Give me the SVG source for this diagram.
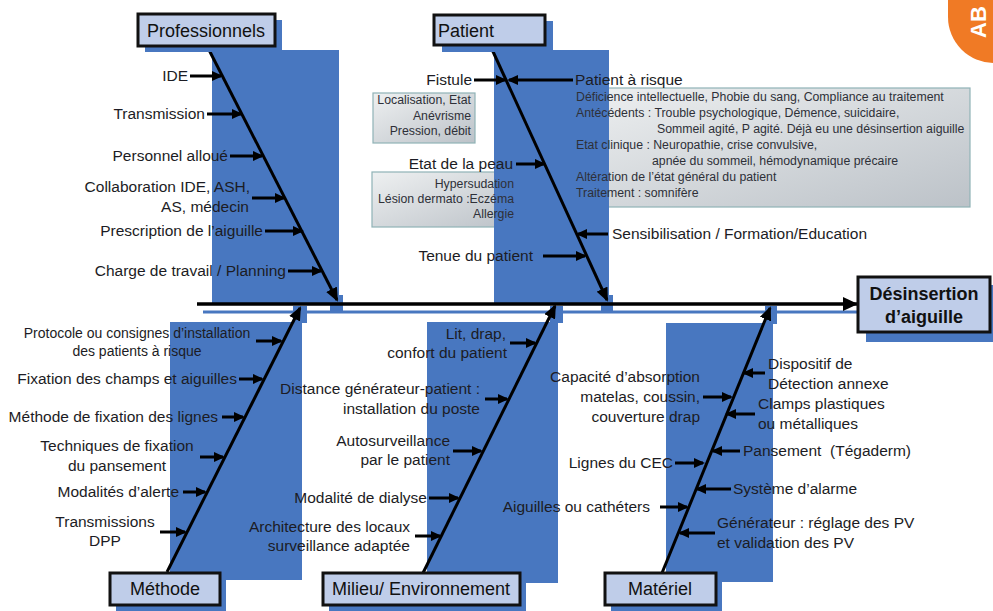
<svg xmlns="http://www.w3.org/2000/svg" width="993" height="611" viewBox="0 0 993 611">
<style>
  text { font-family: "Liberation Sans", Arial, sans-serif; fill: #1c1c24; }
  .lbl { font-size: 15.5px; }
  .sm { font-size: 14px; }
  .note { font-size: 12.3px; fill: #2e3038; }
  .note12 { font-size: 12.3px; fill: #2e3038; }
  .title { font-size: 18px; fill: #111; }
  .eff { font-size: 18px; font-weight: bold; fill: #111; }
  .blue { fill: #4877c0; }
  .box { fill: #bfcde9; stroke: #111; stroke-width: 3; }
  .gbox { fill: url(#gg); stroke: #8fb2b6; stroke-width: 1.2; }
  .bone { stroke: #000; stroke-width: 3; fill: none; marker-end: url(#mb); }
  .sub { stroke: #000; stroke-width: 3; fill: none; marker-end: url(#ms); }
  .r { text-anchor: end; }
  .c { text-anchor: middle; }
</style>
<defs>
  <linearGradient id="gg" x1="0" y1="0" x2="1" y2="1">
    <stop offset="0" stop-color="#eef0f1"/>
    <stop offset="1" stop-color="#bcc2c8"/>
  </linearGradient>
  <marker id="ms" markerUnits="userSpaceOnUse" markerWidth="12" markerHeight="10" refX="9" refY="5" orient="auto">
    <path d="M0,0 L11,5 L0,10 z" fill="#000"/>
  </marker>
  <marker id="mb" markerUnits="userSpaceOnUse" markerWidth="15" markerHeight="12" refX="12" refY="6" orient="auto">
    <path d="M0,0 L14,6 L0,12 z" fill="#000"/>
  </marker>
  <marker id="mspine" markerUnits="userSpaceOnUse" markerWidth="16" markerHeight="14" refX="14" refY="7" orient="auto">
    <path d="M0,0 L15,7 L0,14 z" fill="#000"/>
  </marker>
</defs>
<rect width="993" height="611" fill="#fff"/>

<!-- logo fragment -->
<g id="logo">
  <rect x="948" y="-60" width="120" height="123" rx="46" fill="#f07a25"/>
  <text transform="translate(986,38) rotate(-90)" style="font-size:22px;font-weight:bold;fill:#fff">AB</text>
</g>

<!-- grey note boxes (behind blue) -->
<g id="notes-bg">
  <rect class="gbox" x="373" y="93" width="102" height="50"/>
  <rect class="gbox" x="372" y="172" width="143" height="55"/>
  <rect class="gbox" x="573" y="88" width="397" height="119"/>
</g>

<!-- blue backgrounds -->
<g id="backgrounds">
  <rect class="blue" x="212" y="50" width="127" height="253"/>
  <rect class="blue" x="494" y="50" width="115" height="253"/>
  <rect class="blue" x="170" y="322" width="132" height="258"/>
  <rect class="blue" x="427" y="322" width="131" height="261"/>
  <rect class="blue" x="666" y="323" width="107" height="259"/>
  <rect class="blue" x="330" y="295" width="13" height="17"/>
  <rect class="blue" x="601" y="295" width="12" height="17"/>
  <rect class="blue" x="293" y="306" width="14" height="17"/>
  <rect class="blue" x="550" y="306" width="13" height="17"/>
  <rect class="blue" x="765" y="306" width="12" height="18"/>
  <line x1="203" y1="312" x2="862" y2="312" stroke="#4877c0" stroke-width="3"/>
</g>

<!-- connectors -->
<g id="connectors">
  <line x1="197" y1="304" x2="857" y2="304" stroke="#000" stroke-width="3.5" marker-end="url(#mspine)"/>
  <!-- bones -->
  <line class="bone" x1="207" y1="46" x2="337" y2="300"/>
  <line class="bone" x1="490" y1="45" x2="607" y2="300"/>
  <line class="bone" x1="167" y1="572" x2="300" y2="308"/>
  <line class="bone" x1="423" y1="573" x2="555" y2="306"/>
  <line class="bone" x1="662" y1="573" x2="770" y2="308"/>
  <!-- Professionnels -->
  <line class="sub" x1="190" y1="76" x2="221" y2="76"/>
  <line class="sub" x1="207" y1="114" x2="241" y2="114"/>
  <line class="sub" x1="230" y1="156" x2="262" y2="156"/>
  <line class="sub" x1="252" y1="198" x2="284" y2="198"/>
  <line class="sub" x1="265" y1="231" x2="302" y2="231"/>
  <line class="sub" x1="288" y1="271" x2="321" y2="271"/>
  <!-- Patient -->
  <line class="sub" x1="474" y1="80" x2="505" y2="80"/>
  <line class="sub" x1="573" y1="80" x2="509" y2="80"/>
  <line class="sub" x1="516" y1="164" x2="544" y2="164"/>
  <line class="sub" x1="608" y1="234" x2="578" y2="234"/>
  <line class="sub" x1="543" y1="256" x2="585" y2="256"/>
  <!-- Méthode -->
  <line class="sub" x1="256" y1="341" x2="281" y2="341"/>
  <line class="sub" x1="239" y1="379" x2="262" y2="379"/>
  <line class="sub" x1="222" y1="417" x2="243" y2="417"/>
  <line class="sub" x1="200" y1="457" x2="223" y2="457"/>
  <line class="sub" x1="183" y1="492" x2="205" y2="492"/>
  <line class="sub" x1="160" y1="532" x2="185" y2="532"/>
  <!-- Milieu -->
  <line class="sub" x1="510" y1="343" x2="535" y2="343"/>
  <line class="sub" x1="485" y1="399" x2="507" y2="399"/>
  <line class="sub" x1="453" y1="451" x2="481" y2="451"/>
  <line class="sub" x1="429" y1="498" x2="458" y2="498"/>
  <line class="sub" x1="415" y1="536" x2="440" y2="536"/>
  <!-- Matériel -->
  <line class="sub" x1="765" y1="373" x2="744" y2="373"/>
  <line class="sub" x1="703" y1="397" x2="731" y2="397"/>
  <line class="sub" x1="755" y1="414" x2="727" y2="414"/>
  <line class="sub" x1="740" y1="451" x2="713" y2="451"/>
  <line class="sub" x1="675" y1="463" x2="703" y2="463"/>
  <line class="sub" x1="731" y1="489" x2="697" y2="489"/>
  <line class="sub" x1="660" y1="507" x2="687" y2="507"/>
  <line class="sub" x1="715" y1="533" x2="680" y2="533"/>
</g>

<!-- category: Professionnels -->
<g id="professionnels">
  <rect class="blue" x="145" y="20" width="137" height="32"/>
  <rect class="box" x="138" y="14" width="137" height="32"/>
  <text class="title c" x="206" y="37">Professionnels</text>
  <text class="lbl r" x="188" y="81">IDE</text>
  <text class="lbl r" x="205" y="119">Transmission</text>
  <text class="lbl r" x="228" y="161">Personnel alloué</text>
  <text class="lbl r" x="250" y="192">Collaboration IDE, ASH,</text>
  <text class="lbl r" x="249" y="212">AS, médecin</text>
  <text class="lbl r" x="263" y="236">Prescription de l’aiguille</text>
  <text class="lbl r" x="286" y="276">Charge de travail / Planning</text>
</g>

<!-- category: Patient -->
<g id="patient">
  <rect class="blue" x="442" y="21" width="111" height="31"/>
  <rect class="box" x="434" y="15" width="111" height="30"/>
  <text class="title" x="438" y="37">Patient</text>
  <text class="lbl r" x="472" y="85">Fistule</text>
  <text class="lbl" x="575" y="85">Patient à risque</text>
  <text class="note12 r" x="471" y="104">Localisation, Etat</text>
  <text class="note12 r" x="471" y="120">Anévrisme</text>
  <text class="note12 r" x="471" y="135">Pression, débit</text>
  <text class="lbl r" x="513" y="169">Etat de la peau</text>
  <text class="note12 r" x="514" y="188">Hypersudation</text>
  <text class="note12 r" x="514" y="203">Lésion dermato :Eczéma</text>
  <text class="note12 r" x="514" y="218">Allergie</text>
  <text class="note" x="576" y="101">Déficience intellectuelle, Phobie du sang, Compliance au traitement</text>
  <text class="note" x="576" y="117">Antécédents : Trouble psychologique, Démence, suicidaire,</text>
  <text class="note" x="657" y="133">Sommeil agité, P agité. Déjà eu une désinsertion aiguille</text>
  <text class="note" x="576" y="149">Etat clinique : Neuropathie, crise convulsive,</text>
  <text class="note" x="652" y="165">apnée du sommeil, hémodynamique précaire</text>
  <text class="note" x="576" y="181">Altération de l’état général du patient</text>
  <text class="note" x="576" y="197">Traitement : somnifère</text>
  <text class="lbl" x="612" y="239">Sensibilisation / Formation/Education</text>
  <text class="lbl r" x="533" y="261">Tenue du patient</text>
</g>

<!-- category: Méthode -->
<g id="methode">
  <rect class="blue" x="116" y="579" width="110" height="32"/>
  <rect class="box" x="110" y="573" width="110" height="32"/>
  <text class="title c" x="165" y="595">Méthode</text>
  <text class="sm c" x="137" y="338">Protocole ou consignes d’installation</text>
  <text class="sm c" x="137" y="356">des patients à risque</text>
  <text class="lbl r" x="237" y="384">Fixation des champs et aiguilles</text>
  <text class="lbl r" x="218" y="422">Méthode de fixation des lignes</text>
  <text class="lbl c" x="117" y="451">Techniques de fixation</text>
  <text class="lbl c" x="117" y="471">du pansement</text>
  <text class="lbl r" x="179" y="497">Modalités d’alerte</text>
  <text class="lbl c" x="105" y="527">Transmissions</text>
  <text class="lbl c" x="105" y="546">DPP</text>
</g>

<!-- category: Milieu/ Environnement -->
<g id="milieu">
  <rect class="blue" x="329" y="579" width="197" height="32"/>
  <rect class="box" x="323" y="573" width="197" height="32"/>
  <text class="title c" x="421" y="595">Milieu/ Environnement</text>
  <text class="lbl r" x="506" y="339">Lit, drap,</text>
  <text class="lbl r" x="507" y="358">confort du patient</text>
  <text class="lbl r" x="480" y="394">Distance générateur-patient :</text>
  <text class="lbl r" x="480" y="414">installation du poste</text>
  <text class="lbl r" x="450" y="446">Autosurveillance</text>
  <text class="lbl r" x="450" y="465">par le patient</text>
  <text class="lbl r" x="427" y="503">Modalité de dialyse</text>
  <text class="lbl r" x="410" y="532">Architecture des locaux</text>
  <text class="lbl r" x="410" y="551">surveillance adaptée</text>
</g>

<!-- category: Matériel -->
<g id="materiel">
  <rect class="blue" x="611" y="579" width="111" height="32"/>
  <rect class="box" x="605" y="573" width="111" height="32"/>
  <text class="title c" x="660" y="595">Matériel</text>
  <text class="lbl" x="768" y="369">Dispositif de</text>
  <text class="lbl" x="768" y="389">Détection annexe</text>
  <text class="lbl r" x="700" y="382">Capacité d’absorption</text>
  <text class="lbl r" x="700" y="402">matelas, coussin,</text>
  <text class="lbl r" x="700" y="422">couverture drap</text>
  <text class="lbl" x="758" y="409">Clamps plastiques</text>
  <text class="lbl" x="758" y="429">ou métalliques</text>
  <text class="lbl" x="743" y="456" xml:space="preserve">Pansement  (Tégaderm)</text>
  <text class="lbl r" x="673" y="468">Lignes du CEC</text>
  <text class="lbl" x="733" y="494">Système d’alarme</text>
  <text class="lbl r" x="650" y="512">Aiguilles ou cathéters</text>
  <text class="lbl" x="717" y="528">Générateur : réglage des PV</text>
  <text class="lbl" x="717" y="548">et validation des PV</text>
</g>

<!-- effect -->
<g id="effect">
  <rect class="blue" x="866" y="285" width="132" height="57"/>
  <rect class="box" x="858" y="277" width="132" height="55"/>
  <text class="eff c" x="924" y="300">Désinsertion</text>
  <text class="eff c" x="924" y="323">d’aiguille</text>
</g>
</svg>
